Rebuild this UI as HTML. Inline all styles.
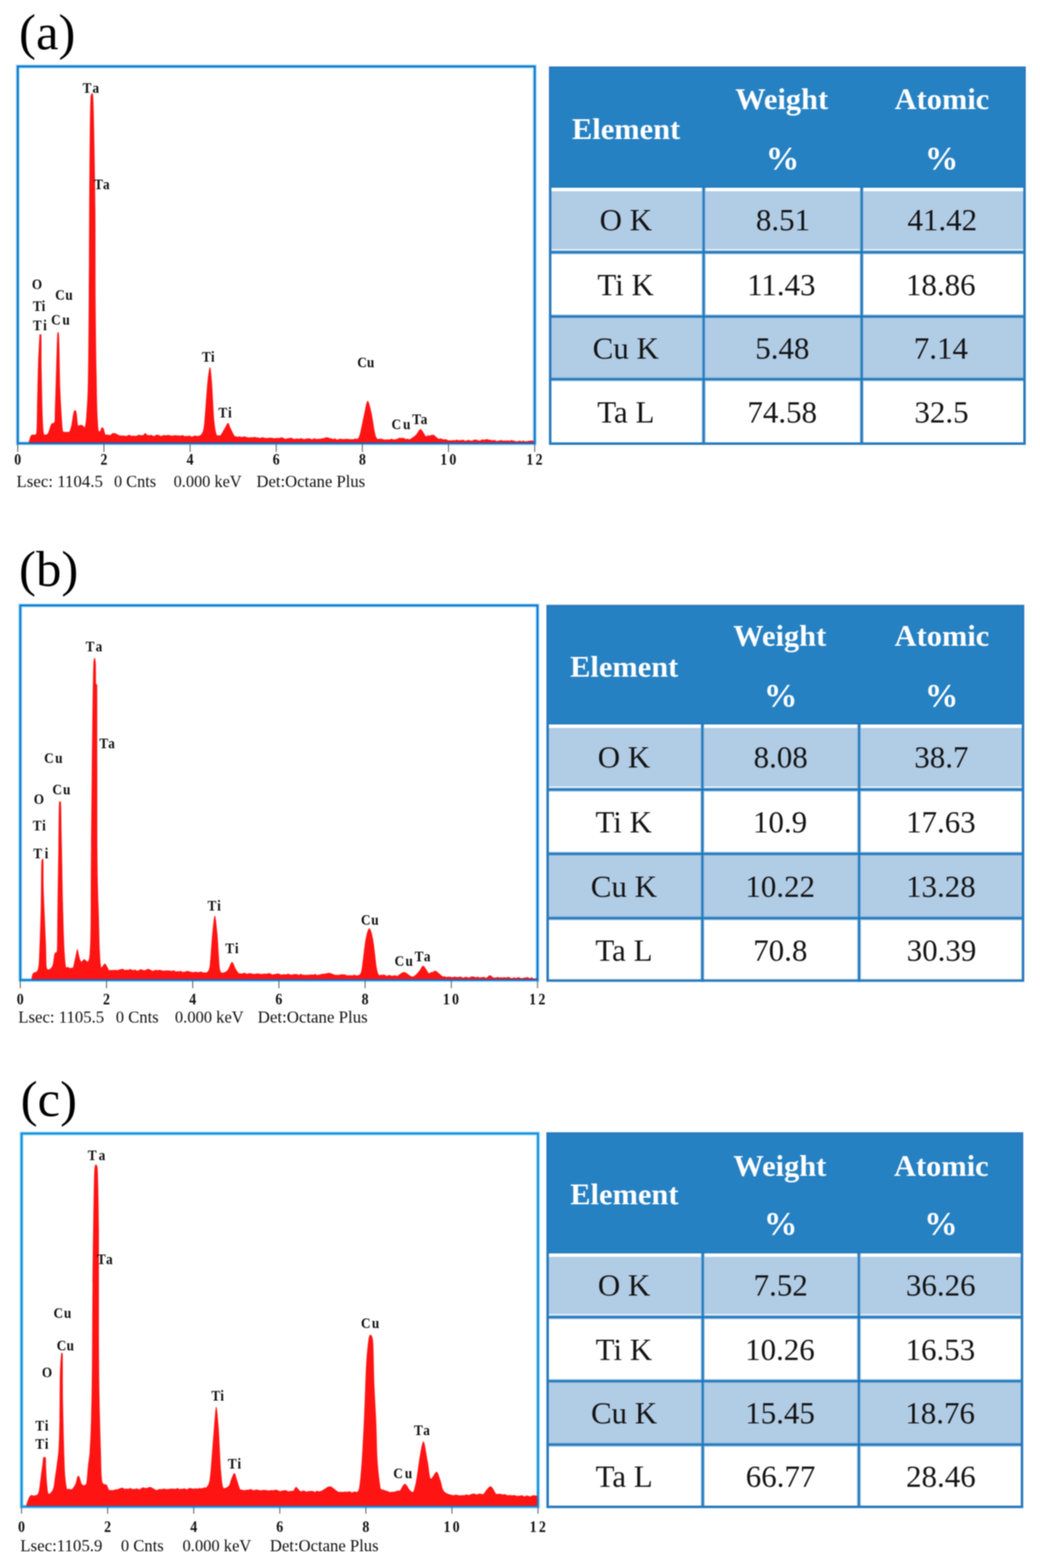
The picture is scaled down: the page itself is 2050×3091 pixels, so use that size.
<!DOCTYPE html>
<html><head><meta charset="utf-8"><title>EDS spectra</title>
<style>html,body{margin:0;padding:0;background:#fff;overflow:hidden;width:2050px;height:3091px;} svg{display:block;} #wrap{filter:blur(1px);}</style></head>
<body><div id="wrap"><svg width="2050" height="3091" viewBox="0 0 2050 3091" font-family="'Liberation Serif', serif">
<rect width="2050" height="3091" fill="#fff"/>
<rect x="35" y="131" width="1019" height="743" fill="none" stroke="#96d6f0" stroke-width="7.5"/>
<path d="M56.9,874 L56.9,869.7 C57.57,867.83 59.5,860.66 60.9,858.5 C62.3,856.75 63.83,857.02 65.3,856.75 C66.77,856.75 68.57,856.9 69.7,856.9 C70.83,855.31 71.55,855.78 72.1,847.2 C72.65,838.62 72.52,826.6 73,805.4 C73.48,784.2 74.2,744.12 75,720 C75.8,695.88 77.2,670.87 77.8,660.7 C78.4,659 77.98,659.28 78.6,659 C79.22,659 80.92,659 81.5,659 C82.08,670.82 81.65,702.57 82.1,729.9 C82.55,757.23 83.45,802.1 84.2,823 C84.95,843.9 85.67,849.65 86.6,855.3 C87.53,856.9 88.45,856.9 89.8,856.9 C91.15,856.62 92.83,856.9 94.7,853.6 C96.57,850.12 98.87,839.77 101,836 C103.13,832.23 106.28,836 107.5,831 C108.3,825.9 107.77,822.78 108.3,805.4 C108.83,788.02 109.9,751.6 110.7,726.7 C111.5,701.8 112.25,667.95 113.1,656 C113.95,655 115.12,655 115.8,655 C116.48,660.62 116.7,671.07 117.2,689.7 C117.7,708.33 118,744.03 118.8,766.8 C119.6,789.57 121.07,812.37 122,826.3 C122.93,840.23 123.33,846.19 124.4,850.4 C125.47,851.57 127.07,851.37 128.4,851.57 C129.73,851.62 131.07,851.62 132.4,851.62 C133.73,851.56 135.05,851.62 136.4,851.2 C137.75,849.13 139.15,845.23 140.5,839.2 C141.85,833.17 143.3,820.1 144.5,815 C145.7,809.9 146.63,808.85 147.7,808.6 C148.77,808.6 149.83,808.6 150.9,813.5 C151.97,818.6 152.75,835.18 154.1,839.2 C155.45,839.2 157.38,837.6 159,837.6 C160.62,837.6 162.47,838.4 163.8,839.2 C165.13,840 165.93,842.4 167,842.4 C168.07,838.92 169.13,834.12 170.2,818.3 C171.27,802.48 172.6,787.42 173.4,747.5 C174.2,707.58 174.5,649.63 175,578.8 C175.5,507.97 175.83,387.18 176.4,322.5 C176.97,257.82 177.5,213.78 178.4,190.7 C179.3,184 180.9,184 181.8,184 C182.7,184.22 183.18,184 183.8,192 C184.42,203.23 184.8,214.35 185.5,251.4 C186.2,288.45 187.5,356.8 188,414.3 C188.5,471.8 188.12,543 188.5,596.4 C188.88,649.8 189.73,698.8 190.3,734.7 C190.87,770.6 191.23,792.78 191.9,811.8 C192.57,830.82 193.5,842.37 194.3,848.8 C195.1,850.4 195.63,850.4 196.7,850.4 C197.77,849.33 199.48,843.47 200.7,842.4 C201.92,842.4 202.78,842.4 204,844 C205.22,846.42 206.6,854.79 208,856.9 C209.4,856.9 210.93,856.66 212.4,856.66 C213.87,856.8 214.98,857.7 216.8,857.7 C218.62,857.19 221.15,854 223.3,853.6 C225.45,853.6 227.58,854.48 229.7,855.3 C231.82,856.12 234.38,857.96 236,858.5 C237.62,858.51 238.27,858.51 239.4,858.51 C240.53,858.5 241.67,858.42 242.8,858.42 C243.93,858.49 245.07,858.81 246.2,858.97 C247.33,859.12 248.47,859.35 249.6,859.35 C250.73,859.12 251.87,857.89 253,857.57 C254.13,857.42 255.27,857.42 256.4,857.42 C257.53,857.75 258.67,859.36 259.8,859.55 C260.93,859.55 262.07,858.55 263.2,858.53 C264.33,858.53 265.47,859.37 266.6,859.41 C267.73,859.41 268.89,859.15 270,858.75 C271.11,858.35 272.17,857.19 273.25,857.02 C274.33,857.02 275.42,857.57 276.5,857.73 C277.58,857.9 278.67,858.01 279.75,858.01 C280.83,857.89 281.92,857.71 283,857 C284.08,856.29 285.08,853.75 286.25,853.75 C287.42,853.75 288.54,856.29 290,857 C291.46,857.71 293.62,857.94 295,858 C296.38,858 297.18,857.35 298.28,857.35 C299.37,857.56 300.46,858.95 301.55,859.26 C302.64,859.26 303.74,859.26 304.83,859.2 C305.92,858.82 307.01,857.35 308.1,856.99 C309.2,856.99 310.29,856.99 311.38,857.02 C312.47,857.26 313.56,858 314.66,858.42 C315.75,858.83 316.84,859.5 317.93,859.5 C319.02,859.45 320.11,858.4 321.21,858.1 C322.3,857.81 323.39,857.73 324.48,857.73 C325.57,857.76 326.67,858.31 327.76,858.31 C328.85,858.25 329.94,857.41 331.03,857.34 C332.13,857.34 333.22,857.7 334.31,857.9 C335.4,858.09 336.49,858.37 337.59,858.51 C338.68,858.65 339.77,858.71 340.86,858.71 C341.95,858.64 343.05,858.18 344.14,858.08 C345.23,858.08 346.32,858.12 347.41,858.13 C348.51,858.14 349.6,858.13 350.69,858.15 C351.78,858.26 352.87,858.78 353.97,858.83 C355.06,858.83 356.15,858.61 357.24,858.44 C358.33,858.26 359.43,857.79 360.52,857.79 C361.61,858.04 362.7,859.71 363.79,859.96 C364.89,859.96 365.98,859.35 367.07,859.28 C368.16,859.28 369.25,859.56 370.34,859.56 C371.44,859.42 372.53,858.42 373.62,858.42 C374.71,858.59 375.8,860.26 376.9,860.57 C377.99,860.57 379.08,860.57 380.17,860.28 C381.26,859.92 382.36,858.62 383.45,858.41 C384.54,858.41 385.63,858.83 386.72,859.01 C387.82,859.19 388.2,859.5 390,859.5 C391.8,858.83 395.42,859.08 397.5,855 C399.58,850.92 400.62,851.67 402.5,835 C404.38,818.33 406.88,773.54 408.75,755 C410.62,736.46 412.29,724.58 413.75,723.75 C415.21,723.75 416.04,732.29 417.5,750 C418.96,767.71 420.83,812 422.5,830 C424.17,848 426.04,853.28 427.5,858 C428.96,858.33 430,858.33 431.25,858.33 C432.5,858.24 432.92,858.33 435,857.5 C437.08,854.86 441.33,846.46 443.75,842.5 C446.17,838.54 447.62,833.75 449.5,833.75 C451.38,834.17 452.83,840.71 455,845 C457.17,849.29 460.71,856.95 462.5,859.5 C464.29,860.28 464.68,860.01 465.77,860.28 C466.86,860.55 467.95,861.1 469.04,861.1 C470.13,861.05 471.22,859.99 472.31,859.99 C473.4,860.02 474.49,861.1 475.58,861.28 C476.67,861.28 477.76,861.25 478.85,861.1 C479.94,860.95 481.03,860.37 482.12,860.37 C483.21,860.41 484.29,861.02 485.38,861.34 C486.47,861.67 487.56,862.15 488.65,862.34 C489.74,862.48 490.83,862.48 491.92,862.48 C493.01,862.39 494.1,861.86 495.19,861.82 C496.28,861.82 497.37,862.27 498.46,862.27 C499.55,862.14 500.64,861.06 501.73,861.06 C502.82,861.1 503.91,862.36 505,862.5 C506.09,862.5 507.17,861.9 508.25,861.9 C509.33,862.05 510.42,863.31 511.5,863.41 C512.58,863.41 513.67,862.73 514.75,862.49 C515.83,862.24 516.92,861.93 518,861.93 C519.08,862.01 520.17,862.72 521.25,862.97 C522.33,863.23 523.42,863.37 524.5,863.44 C525.58,863.44 526.67,863.44 527.75,863.44 C528.83,863.32 529.92,862.81 531,862.73 C532.08,862.73 533.17,862.89 534.25,862.97 C535.33,863.05 536.42,863.05 537.5,863.22 C538.58,863.39 539.67,863.96 540.75,863.99 C541.83,863.99 542.92,863.53 544,863.39 C545.08,863.24 546.17,863.13 547.25,863.13 C548.33,863.13 549.42,863.45 550.5,863.45 C551.58,863.31 552.67,862.49 553.75,862.32 C554.83,862.32 555.92,862.32 557,862.42 C558.08,862.74 559.17,863.78 560.25,864.21 C561.33,864.64 562.42,865.01 563.5,865.01 C564.58,864.98 565.67,864.29 566.75,864.06 C567.83,863.83 568.92,863.77 570,863.61 C571.08,863.45 572.17,863.1 573.25,863.1 C574.33,863.17 575.42,863.66 576.5,864.03 C577.58,864.41 578.67,865.21 579.75,865.35 C580.83,865.35 581.92,865.04 583,864.87 C584.08,864.7 585.17,864.34 586.25,864.34 C587.33,864.4 588.42,865.24 589.5,865.24 C590.58,865.13 591.67,863.81 592.75,863.68 C593.83,863.68 594.92,864.14 596,864.48 C597.08,864.82 598.17,865.64 599.25,865.69 C600.33,865.69 601.42,864.98 602.5,864.79 C603.58,864.59 604.67,864.66 605.75,864.55 C606.83,864.44 607.92,864.12 609,864.12 C610.08,864.18 611.17,864.6 612.25,864.92 C613.33,865.24 614.42,866.05 615.5,866.05 C616.58,865.84 617.67,863.82 618.75,863.65 C619.83,863.65 620.92,864.72 622,865 C623.08,865.28 624.14,865.31 625.21,865.31 C626.29,865.3 627.36,865.07 628.43,864.98 C629.5,864.88 630.57,864.9 631.64,864.72 C632.71,864.54 633.79,864.09 634.86,863.91 C635.93,863.73 637,863.9 638.07,863.66 C639.14,863.42 640.21,862.75 641.29,862.48 C642.36,862.2 643.27,862 644.5,862 C645.73,862.14 647.28,862.97 648.67,863.33 C650.06,863.68 651.44,863.78 652.83,864.14 C654.22,864.5 655.74,865.47 657,865.5 C658.26,865.5 659.26,864.35 660.39,864.35 C661.52,864.51 662.65,866.24 663.79,866.46 C664.92,866.46 666.05,865.97 667.18,865.68 C668.31,865.39 669.44,864.75 670.57,864.72 C671.7,864.72 672.83,865.39 673.96,865.51 C675.1,865.51 676.23,865.51 677.36,865.46 C678.49,865.4 679.62,865.19 680.75,865.13 C681.88,865.1 683.01,865.1 684.14,865.1 C685.27,865.18 686.4,865.48 687.54,865.6 C688.67,865.72 689.8,865.79 690.93,865.82 C692.06,865.82 693.19,865.82 694.32,865.79 C695.45,865.72 696.58,865.64 697.71,865.39 C698.85,865.14 699.98,864.27 701.11,864.27 C702.24,864.29 703.1,865.5 704.5,865.5 C705.9,863.95 707.42,862.58 709.5,855 C711.58,847.42 714.5,830.83 717,820 C719.5,809.17 722,791.25 724.5,790 C727,790 729.5,801.67 732,812.5 C734.5,823.33 737.42,846.17 739.5,855 C741.58,863.83 743.1,863.87 744.5,865.5 C745.9,865.5 746.77,864.94 747.91,864.8 C749.05,864.66 750.18,864.66 751.32,864.66 C752.45,864.81 753.59,865.42 754.73,865.72 C755.86,866.02 757,866.35 758.14,866.44 C759.27,866.44 760.41,866.3 761.55,866.28 C762.68,866.27 763.82,866.27 764.95,866.27 C766.09,866.28 767.23,866.32 768.36,866.32 C769.5,866.09 770.64,864.86 771.77,864.86 C772.91,864.87 774.05,866.21 775.18,866.39 C776.32,866.39 777.45,866.1 778.59,865.95 C779.73,865.8 780.88,865.85 782,865.5 C783.12,865.15 784.22,864.24 785.33,863.83 C786.44,863.43 787.56,863.09 788.67,863.08 C789.78,863.08 790.82,863.75 792,863.75 C793.18,863.75 794.5,863.05 795.75,863.05 C797,863.35 798.25,865.25 799.5,865.54 C800.75,865.54 802,864.79 803.25,864.79 C804.5,864.86 804.29,866 807,866 C809.71,864.79 815.83,860.83 819.5,857.5 C823.17,854.17 825.67,846 829,846 C832.33,846.42 837.12,857.96 839.5,860 C841.88,860 842,858.43 843.25,858.23 C844.5,858.23 845.75,858.82 847,858.82 C848.25,858.68 849.5,857.65 850.75,857.35 C852,857.04 852.21,857 854.5,857 C856.79,858.28 862.3,863.78 864.5,865 C866.7,865 866.64,864.31 867.71,864.31 C868.79,864.31 869.86,864.63 870.93,864.97 C872,865.31 873.07,866.21 874.14,866.36 C875.21,866.36 876.29,865.85 877.36,865.85 C878.43,865.88 879.5,866.17 880.57,866.55 C881.64,866.93 882.71,867.88 883.79,868.12 C884.86,868.12 885.91,868.04 887,868 C888.09,867.96 889.22,867.96 890.33,867.88 C891.44,867.81 892.56,867.54 893.67,867.54 C894.78,867.55 895.89,867.93 897,867.93 C898.11,867.8 899.22,866.8 900.33,866.76 C901.44,866.76 902.56,867.53 903.67,867.71 C904.78,867.79 905.89,867.79 907,867.79 C908.11,867.71 909.22,867.32 910.33,867.19 C911.44,867.05 912.56,866.98 913.67,866.98 C914.78,867.29 915.89,868.87 917,869.04 C918.11,869.04 919.22,868.33 920.33,868.03 C921.44,867.73 922.56,867.24 923.67,867.24 C924.78,867.29 925.89,868.01 927,868.27 C928.11,868.54 929.22,868.82 930.33,868.82 C931.44,868.57 932.56,867.1 933.67,866.75 C934.78,866.75 935.89,866.75 937,866.75 C938.11,866.8 939.22,866.78 940.33,867.08 C941.44,867.38 942.56,868.42 943.67,868.57 C944.78,868.57 945.75,868.38 947,868 C948.25,867.62 949.78,866.47 951.17,866.28 C952.56,866.28 953.94,866.87 955.33,866.87 C956.72,866.73 958.11,865.51 959.5,865.5 C960.89,865.5 962.28,866.5 963.67,866.8 C965.06,867.09 966.44,867.08 967.83,867.28 C969.22,867.48 970.77,867.99 972,868 C973.23,868 974.15,867.33 975.23,867.33 C976.31,867.56 977.38,869.08 978.46,869.35 C979.54,869.35 980.62,869.13 981.69,868.95 C982.77,868.77 983.85,868.5 984.92,868.27 C986,868.04 987.08,867.57 988.15,867.57 C989.23,867.65 990.31,868.64 991.38,868.73 C992.46,868.73 993.54,868.14 994.62,868.13 C995.69,868.13 996.77,868.66 997.85,868.66 C998.92,868.65 1000,868.05 1001.08,868.05 C1002.15,868.1 1003.23,868.92 1004.31,868.92 C1005.38,868.82 1006.46,867.61 1007.54,867.49 C1008.62,867.49 1009.69,867.96 1010.77,868.17 C1011.85,868.38 1012.89,868.44 1014,868.75 C1015.11,869.06 1016.3,869.85 1017.45,870.03 C1018.61,870.03 1019.76,870.03 1020.91,869.86 C1022.06,869.6 1023.21,868.45 1024.36,868.45 C1025.52,868.47 1026.67,869.93 1027.82,869.95 C1028.97,869.95 1030.12,868.6 1031.27,868.6 C1032.42,868.66 1033.58,870.09 1034.73,870.3 C1035.88,870.3 1037.03,870.07 1038.18,869.86 C1039.33,869.66 1040.48,869.27 1041.64,869.08 C1042.79,868.89 1043.94,868.87 1045.09,868.72 C1046.24,868.57 1047.39,868.15 1048.55,868.15 C1049.7,868.28 1051.42,869.28 1052,869.5 L1052,874 Z" fill="#ff1414"/>
<rect x="35" y="131" width="1019" height="743" fill="none" stroke="#0068cc" stroke-width="3.2"/>
<line x1="35" y1="875.5" x2="35" y2="891" stroke="#555" stroke-width="1.8"/>
<text transform="scale(0.86,1)" x="32.7" y="916.5" font-size="32" font-weight="bold" fill="#111" >0</text>
<line x1="204.83" y1="875.5" x2="204.83" y2="891" stroke="#555" stroke-width="1.8"/>
<text transform="scale(0.86,1)" x="230.19" y="916.5" font-size="32" font-weight="bold" fill="#111" >2</text>
<line x1="374.67" y1="875.5" x2="374.67" y2="891" stroke="#555" stroke-width="1.8"/>
<text transform="scale(0.86,1)" x="427.74" y="916.5" font-size="32" font-weight="bold" fill="#111" >4</text>
<line x1="544.5" y1="875.5" x2="544.5" y2="891" stroke="#555" stroke-width="1.8"/>
<text transform="scale(0.86,1)" x="625.06" y="916.5" font-size="32" font-weight="bold" fill="#111" >6</text>
<line x1="714.33" y1="875.5" x2="714.33" y2="891" stroke="#555" stroke-width="1.8"/>
<text transform="scale(0.86,1)" x="822.62" y="916.5" font-size="32" font-weight="bold" fill="#111" >8</text>
<line x1="884.17" y1="875.5" x2="884.17" y2="891" stroke="#555" stroke-width="1.8"/>
<text transform="scale(0.86,1)" x="1008.97 1029.89" y="916.5" font-size="32" font-weight="bold" fill="#111" >10</text>
<line x1="1054" y1="875.5" x2="1054" y2="891" stroke="#555" stroke-width="1.8"/>
<text transform="scale(0.86,1)" x="1206.45 1227.53" y="916.5" font-size="32" font-weight="bold" fill="#111" >12</text>
<text x="32.55" y="960" font-size="33" font-weight="normal" fill="#111" textLength="170.24" lengthAdjust="spacingAndGlyphs">Lsec: 1104.5</text>
<text x="224.74" y="960" font-size="33" font-weight="normal" fill="#111" textLength="82.95" lengthAdjust="spacingAndGlyphs">0 Cnts</text>
<text x="342.24" y="960" font-size="33" font-weight="normal" fill="#111" textLength="134.13" lengthAdjust="spacingAndGlyphs">0.000 keV</text>
<text x="505.55" y="960" font-size="33" font-weight="normal" fill="#111" textLength="214.14" lengthAdjust="spacingAndGlyphs">Det:Octane Plus</text>
<text x="37.6" y="96.6" font-size="100" fill="#000">(a)</text>
<text transform="scale(0.86,1)" x="189.29 211.96" y="182.75" font-size="30.5" font-weight="bold" fill="#111" >Ta</text>
<text transform="scale(0.86,1)" x="215.57 235.91" y="372.6" font-size="30.5" font-weight="bold" fill="#111" >Ta</text>
<text transform="scale(0.86,1)" x="72.96" y="570.5" font-size="30.5" font-weight="bold" fill="#111" >O</text>
<text transform="scale(0.86,1)" x="126.53 149.79" y="590.6" font-size="30.5" font-weight="bold" fill="#111" >Cu</text>
<text transform="scale(0.86,1)" x="75.22 95.23" y="613.1" font-size="30.5" font-weight="bold" fill="#111" >Ti</text>
<text transform="scale(0.86,1)" x="117.23 143.16" y="639.7" font-size="30.5" font-weight="bold" fill="#111" >Cu</text>
<text transform="scale(0.86,1)" x="75.22 98.95" y="650.9" font-size="30.5" font-weight="bold" fill="#111" >Ti</text>
<text transform="scale(0.86,1)" x="462.9 483.54" y="712.75" font-size="30.5" font-weight="bold" fill="#111" >Ti</text>
<text transform="scale(0.86,1)" x="500.69 522.79" y="822.75" font-size="30.5" font-weight="bold" fill="#111" >Ti</text>
<text transform="scale(0.86,1)" x="818.86 841.12" y="724" font-size="30.5" font-weight="bold" fill="#111" >Cu</text>
<text transform="scale(0.86,1)" x="897.35 923.97" y="846.5" font-size="30.5" font-weight="bold" fill="#111" >Cu</text>
<text transform="scale(0.86,1)" x="944.87 964.28" y="836.5" font-size="30.5" font-weight="bold" fill="#111" >Ta</text>
<rect x="1082" y="131" width="940" height="746" fill="#fff"/>
<rect x="1082" y="131" width="940" height="238" fill="#2681c2"/>
<rect x="1085.5" y="377" width="298" height="114.3" fill="#b1cce5"/>
<rect x="1390.5" y="377" width="304.5" height="114.3" fill="#b1cce5"/>
<rect x="1702" y="377" width="316.5" height="114.3" fill="#b1cce5"/>
<rect x="1085.5" y="628.1" width="298" height="116.3" fill="#b1cce5"/>
<rect x="1390.5" y="628.1" width="304.5" height="116.3" fill="#b1cce5"/>
<rect x="1702" y="628.1" width="316.5" height="116.3" fill="#b1cce5"/>
<line x1="1082" y1="497.3" x2="2022" y2="497.3" stroke="#74a8d6" stroke-width="7.5"/>
<line x1="1082" y1="624.1" x2="2022" y2="624.1" stroke="#74a8d6" stroke-width="7.5"/>
<line x1="1082" y1="747.4" x2="2022" y2="747.4" stroke="#74a8d6" stroke-width="7.5"/>
<line x1="1387" y1="369" x2="1387" y2="877" stroke="#74a8d6" stroke-width="7"/>
<line x1="1698.5" y1="369" x2="1698.5" y2="877" stroke="#74a8d6" stroke-width="7"/>
<line x1="1082" y1="497.3" x2="2022" y2="497.3" stroke="#1272b8" stroke-width="3"/>
<line x1="1082" y1="624.1" x2="2022" y2="624.1" stroke="#1272b8" stroke-width="3"/>
<line x1="1082" y1="747.4" x2="2022" y2="747.4" stroke="#1272b8" stroke-width="3"/>
<line x1="1387" y1="369" x2="1387" y2="877" stroke="#1272b8" stroke-width="2.8"/>
<line x1="1698.5" y1="369" x2="1698.5" y2="877" stroke="#1272b8" stroke-width="2.8"/>
<line x1="1082" y1="369" x2="2022" y2="369" stroke="#1a76bc" stroke-width="2"/>
<rect x="1084.5" y="133.5" width="935" height="741" fill="none" stroke="#2a7bbf" stroke-width="5"/>
<text x="1127.48" y="274.2" font-size="60" font-weight="bold" fill="#fff">Element</text>
<text x="1449.13" y="215" font-size="60" font-weight="bold" fill="#fff">Weight</text>
<text x="1763.41" y="215" font-size="60" font-weight="bold" fill="#fff">Atomic</text>
<text x="1509.46" y="334" font-size="66" font-weight="bold" fill="#fff">%</text>
<text x="1822.96" y="334" font-size="66" font-weight="bold" fill="#fff">%</text>
<text x="1181.88" y="454.15" font-size="61" font-weight="normal" fill="#141414">O K</text>
<text x="1490.05" y="454.15" font-size="61" font-weight="normal" fill="#141414">8.51</text>
<text x="1788.71" y="454.15" font-size="61" font-weight="normal" fill="#141414">41.42</text>
<text x="1177.51" y="581.7" font-size="61" font-weight="normal" fill="#141414">Ti K</text>
<text x="1472.64" y="581.7" font-size="61" font-weight="normal" fill="#141414">11.43</text>
<text x="1785.85" y="581.7" font-size="61" font-weight="normal" fill="#141414">18.86</text>
<text x="1168.32" y="706.75" font-size="61" font-weight="normal" fill="#141414">Cu K</text>
<text x="1488.76" y="706.75" font-size="61" font-weight="normal" fill="#141414">5.48</text>
<text x="1801.34" y="706.75" font-size="61" font-weight="normal" fill="#141414">7.14</text>
<text x="1177.36" y="833.2" font-size="61" font-weight="normal" fill="#141414">Ta L</text>
<text x="1473.28" y="833.2" font-size="61" font-weight="normal" fill="#141414">74.58</text>
<text x="1802.61" y="833.2" font-size="61" font-weight="normal" fill="#141414">32.5</text>
<rect x="40" y="1193.5" width="1019.5" height="738.5" fill="none" stroke="#96d6f0" stroke-width="7.5"/>
<path d="M62.1,1932 L62.1,1928.5 C62.58,1926.88 62.92,1921.7 65,1918.8 C67.08,1915.9 72.52,1918.15 74.6,1911.1 C76.68,1904.05 76.53,1897.02 77.5,1876.5 C78.47,1855.98 79.75,1816.87 80.4,1788 C81.05,1759.13 80.97,1719.03 81.4,1703.3 C81.83,1693.6 82.32,1695.22 83,1693.6 C83.68,1693.6 84.97,1693.6 85.5,1693.6 C86.03,1703.87 85.5,1727.93 86.2,1755.2 C87.02,1782.47 89.43,1831.85 90.4,1857.2 C91.37,1882.55 91.1,1898.32 92,1907.3 C92.9,1911.1 93.88,1911.1 95.8,1911.1 C97.72,1910.45 101.57,1908.53 103.5,1903.4 C105.43,1898.27 105.95,1885.1 107.4,1880.3 C108.85,1875.5 111.25,1880.3 112.2,1874.6 C113.1,1862.42 112.62,1841.22 113.1,1807.2 C113.58,1773.18 114.53,1708.37 115.1,1670.5 C115.67,1632.63 115.68,1595.08 116.5,1580 C117.32,1580 119.12,1580 120,1580 C120.88,1593.5 121.02,1623.45 121.8,1661 C122.58,1698.55 123.73,1768.75 124.7,1805.3 C125.67,1841.85 126.63,1863.3 127.6,1880.3 C128.57,1897.3 129.46,1902.96 130.5,1907.3 C131.54,1907.3 132.73,1906.35 133.85,1906.35 C134.97,1906.5 136.08,1907.93 137.2,1908.2 C138.32,1908.2 139.43,1908.14 140.55,1907.99 C141.67,1907.84 142.54,1907.99 143.9,1907.3 C145.26,1903.65 147.25,1892.2 148.7,1886.1 C150.15,1880 151.32,1870.7 152.6,1870.7 C153.88,1870.7 155.12,1881.93 156.4,1886.1 C157.68,1890.27 158.68,1894.9 160.3,1895.7 C161.92,1895.7 164.02,1890.9 166.1,1890.9 C168.18,1890.9 171.03,1895.7 172.8,1895.7 C174.57,1893.93 175.73,1892.48 176.7,1880.3 C177.67,1868.12 178.13,1857.57 178.6,1822.6 C179.07,1787.63 178.95,1735.88 179.5,1670.5 C180.05,1605.12 181.13,1490.68 181.9,1430.3 C182.67,1369.92 183.33,1330.42 184.1,1308.2 C184.87,1297 185.72,1297.03 186.5,1297 C187.28,1297 188.3,1299.53 188.8,1308 C189.3,1316.47 189.03,1340.8 189.5,1347.8 C189.97,1350 191.18,1347.8 191.6,1350 C192,1405.07 191.6,1602 192,1678.2 C192.55,1754.4 194.08,1774.15 194.9,1807.2 C195.72,1840.25 196.08,1859.82 196.9,1876.5 C197.72,1893.18 198.2,1903.45 199.8,1907.3 C201.4,1907.3 204.42,1899.6 206.5,1899.6 C208.58,1899.6 210.87,1905.07 212.3,1907.3 C213.73,1909.53 214.05,1912.21 215.1,1913 C216.15,1913 217.42,1912.15 218.58,1912.05 C219.74,1912.05 220.91,1912.35 222.07,1912.35 C223.23,1912.33 224.39,1911.96 225.55,1911.92 C226.71,1911.92 227.87,1912.09 229.03,1912.13 C230.19,1912.17 231.36,1912.17 232.52,1912.17 C233.68,1912 234.86,1911.44 236,1911.1 C237.14,1910.76 238.22,1910.31 239.33,1910.14 C240.44,1910.06 241.56,1910.06 242.67,1910.06 C243.78,1910.41 244.89,1912.05 246,1912.25 C247.11,1912.25 248.22,1911.3 249.33,1911.3 C250.44,1911.3 251.56,1912.25 252.67,1912.25 C253.78,1912.09 254.89,1910.47 256,1910.37 C257.11,1910.37 258.22,1911.27 259.33,1911.61 C260.44,1911.95 261.56,1912.42 262.67,1912.42 C263.78,1912.36 264.89,1911.23 266,1911.23 C267.11,1911.36 268.22,1912.87 269.33,1913.19 C270.44,1913.19 271.56,1913.19 272.67,1913.17 C273.78,1912.81 274.89,1911.35 276,1911 C277.11,1911 278.22,1911 279.33,1911.08 C280.44,1911.33 281.56,1912.28 282.67,1912.51 C283.78,1912.51 284.4,1912.51 286,1912.5 C287.6,1912.08 290.25,1910 292.25,1910 C294.25,1910 296.5,1911.87 298,1912.5 C299.5,1913.13 300.16,1913.76 301.24,1913.76 C302.32,1913.75 303.4,1912.7 304.48,1912.43 C305.56,1912.16 306.63,1912.12 307.71,1912.12 C308.79,1912.18 309.87,1912.77 310.95,1912.77 C312.03,1912.73 313.11,1911.92 314.19,1911.87 C315.27,1911.87 316.35,1912.27 317.43,1912.49 C318.51,1912.71 319.59,1913.01 320.67,1913.17 C321.75,1913.33 322.83,1913.44 323.9,1913.44 C324.98,1913.39 326.06,1912.95 327.14,1912.88 C328.22,1912.88 329.3,1912.96 330.38,1912.99 C331.46,1913.02 332.54,1912.99 333.62,1913.08 C334.7,1913.22 335.78,1913.75 336.86,1913.82 C337.94,1913.82 339.02,1913.65 340.1,1913.5 C341.17,1913.35 342.25,1912.92 343.33,1912.92 C344.41,1913.2 345.49,1914.89 346.57,1915.16 C347.65,1915.16 348.73,1914.6 349.81,1914.55 C350.89,1914.55 351.97,1914.89 353.05,1914.89 C354.13,1914.77 355.21,1913.83 356.29,1913.83 C357.37,1914.02 358.44,1915.71 359.52,1916.04 C360.6,1916.04 361.68,1915.99 362.76,1915.82 C363.84,1915.64 364.92,1915.28 366,1915 C367.08,1914.72 368.18,1914.15 369.27,1914.11 C370.36,1914.11 371.45,1914.47 372.54,1914.76 C373.63,1915.05 374.72,1915.67 375.81,1915.86 C376.9,1915.93 377.99,1915.86 379.08,1915.93 C380.17,1916.06 381.26,1916.62 382.35,1916.62 C383.44,1916.52 384.53,1915.39 385.62,1915.37 C386.71,1915.37 387.79,1916.39 388.88,1916.53 C389.97,1916.53 391.06,1916.41 392.15,1916.21 C393.24,1916.02 394.33,1915.36 395.42,1915.35 C396.51,1915.35 397.6,1915.91 398.69,1916.19 C399.78,1916.47 400.87,1916.91 401.96,1917.05 C403.05,1917.05 404.14,1917.05 405.23,1917.05 C406.32,1916.92 407.12,1917.05 408.5,1916.25 C409.88,1913.82 411.83,1915.21 413.5,1902.5 C415.17,1889.79 416.83,1856.25 418.5,1840 C420.17,1823.75 421.83,1805 423.5,1805 C425.17,1805 426.83,1822.5 428.5,1840 C430.17,1857.5 431.83,1897.08 433.5,1910 C435.17,1917.5 436,1917.08 438.5,1917.5 C441,1917.5 445.38,1916.04 448.5,1912.5 C451.62,1908.96 454.54,1896.67 457.25,1896.25 C459.96,1896.25 462.46,1906.25 464.75,1910 C467.04,1913.75 469.42,1917.28 471,1918.75 C472.58,1918.81 473.14,1918.76 474.2,1918.81 C475.27,1918.87 476.34,1919.08 477.41,1919.08 C478.48,1918.9 479.54,1917.83 480.61,1917.69 C481.68,1917.69 482.75,1917.94 483.82,1918.29 C484.88,1918.63 485.95,1919.69 487.02,1919.78 C488.09,1919.78 489.16,1919.09 490.22,1918.83 C491.29,1918.58 492.36,1918.26 493.43,1918.26 C494.5,1918.33 495.56,1919.04 496.63,1919.29 C497.7,1919.53 498.77,1919.67 499.84,1919.74 C500.9,1919.74 501.97,1919.74 503.04,1919.71 C504.11,1919.59 505.18,1919.07 506.24,1918.99 C507.31,1918.99 508.38,1919.13 509.45,1919.2 C510.52,1919.28 511.59,1919.27 512.65,1919.44 C513.72,1919.6 514.79,1920.17 515.86,1920.19 C516.93,1920.19 517.99,1919.72 519.06,1919.57 C520.13,1919.42 521.2,1919.29 522.27,1919.29 C523.33,1919.29 524.4,1919.59 525.47,1919.59 C526.54,1919.45 527.61,1918.62 528.67,1918.45 C529.74,1918.45 530.81,1918.45 531.88,1918.53 C532.95,1918.84 534.01,1919.87 535.08,1920.3 C536.15,1920.72 537.22,1921.08 538.29,1921.08 C539.35,1921.05 540.42,1920.35 541.49,1920.11 C542.56,1919.88 543.63,1919.81 544.69,1919.65 C545.76,1919.48 546.83,1919.12 547.9,1919.12 C548.97,1919.18 550.03,1919.66 551.1,1920.03 C552.17,1920.4 553.24,1921.2 554.31,1921.33 C555.37,1921.33 556.44,1921.01 557.51,1920.83 C558.58,1920.66 559.65,1920.28 560.71,1920.28 C561.78,1920.34 562.85,1921.17 563.92,1921.17 C564.99,1921.05 566.05,1919.72 567.12,1919.58 C568.19,1919.58 569.26,1920.04 570.33,1920.37 C571.39,1920.7 572.46,1921.51 573.53,1921.56 C574.6,1921.56 575.67,1920.83 576.73,1920.64 C577.8,1920.44 578.87,1920.5 579.94,1920.38 C581.01,1920.26 582.07,1919.94 583.14,1919.94 C584.21,1919.99 585.28,1920.4 586.35,1920.71 C587.41,1921.03 588.48,1921.83 589.55,1921.83 C590.62,1921.61 591.69,1919.46 592.76,1919.4 C593.82,1919.4 594.89,1921.11 595.96,1921.48 C597.03,1921.62 598.1,1921.56 599.16,1921.62 C600.23,1921.69 601.3,1921.85 602.37,1921.85 C603.44,1921.83 604.5,1921.53 605.57,1921.52 C606.64,1921.52 607.71,1921.75 608.78,1921.75 C609.84,1921.67 610.91,1921.13 611.98,1921.04 C613.05,1921.04 614.12,1921.21 615.18,1921.21 C616.25,1921.18 617.32,1921.11 618.39,1920.9 C619.46,1920.7 620.52,1919.99 621.59,1919.99 C622.66,1920.2 623.73,1921.95 624.8,1922.16 C625.86,1922.16 626.93,1921.45 628,1921.25 C629.07,1921.05 630.14,1921.25 631.21,1920.97 C632.29,1920.68 633.36,1919.72 634.43,1919.54 C635.5,1919.54 636.57,1919.87 637.64,1919.87 C638.71,1919.84 639.79,1919.57 640.86,1919.35 C641.93,1919.13 643,1918.77 644.07,1918.56 C645.14,1918.34 646.21,1918.16 647.29,1918.06 C648.36,1918 649.17,1918 650.5,1918 C651.83,1918.3 653.67,1919.27 655.25,1919.85 C656.83,1920.43 658.67,1921.17 660,1921.5 C661.33,1921.83 662.13,1921.79 663.2,1921.85 C664.27,1921.86 665.33,1921.86 666.4,1921.86 C667.47,1921.8 668.53,1921.73 669.6,1921.49 C670.67,1921.25 671.73,1920.49 672.8,1920.41 C673.87,1920.41 674.93,1920.89 676,1920.96 C677.07,1920.96 678.13,1920.86 679.2,1920.86 C680.27,1921.03 681.33,1921.65 682.4,1921.95 C683.47,1922.26 684.53,1922.6 685.6,1922.71 C686.67,1922.71 687.73,1922.59 688.8,1922.58 C689.87,1922.58 690.93,1922.59 692,1922.61 C693.07,1922.62 694.13,1922.69 695.2,1922.69 C696.27,1922.47 697.33,1921.26 698.4,1921.26 C699.47,1921.29 700.53,1922.63 701.6,1922.82 C702.67,1922.82 703.73,1922.55 704.8,1922.42 C705.87,1922.28 706.63,1922.42 708,1922 C709.37,1919.93 710.92,1921.58 713,1910 C715.08,1898.42 718,1865.83 720.5,1852.5 C723,1839.17 725.5,1830 728,1830 C730.5,1830 733,1839.17 735.5,1852.5 C738,1865.83 740.92,1898.33 743,1910 C745.08,1921.67 746.58,1920.58 748,1922.5 C749.42,1922.5 750.33,1921.71 751.5,1921.54 C752.67,1921.49 753.83,1921.49 755,1921.49 C756.17,1921.51 757.33,1921.49 758.5,1921.61 C759.67,1921.97 760.83,1923.52 762,1923.66 C763.17,1923.66 764.33,1922.71 765.5,1922.47 C766.67,1922.24 767.83,1922.23 769,1922.23 C770.17,1922.44 771.33,1923.56 772.5,1923.7 C773.67,1923.7 774.83,1923.29 776,1923.1 C777.17,1922.9 778.33,1922.51 779.5,1922.51 C780.67,1922.61 780.12,1923.75 783,1923.75 C785.88,1922.71 791.75,1916.25 796.75,1916.25 C801.75,1916.46 808.21,1925 813,1925 C817.79,1924.79 821.96,1918.54 825.5,1915 C829.04,1911.46 830.92,1903.75 834.25,1903.75 C837.58,1904.38 843.05,1916.61 845.5,1918.75 C847.95,1918.75 847.79,1917.02 848.94,1916.62 C850.08,1916.32 851.23,1916.62 852.38,1916.32 C853.52,1915.91 854.67,1914.57 855.81,1914.14 C856.96,1913.75 856.39,1913.75 859.25,1913.75 C862.11,1915.56 870.15,1923.19 873,1925 C875.85,1925 875.22,1924.62 876.33,1924.62 C877.44,1924.78 878.56,1925.82 879.67,1925.97 C880.78,1925.97 881.89,1925.61 883,1925.51 C884.11,1925.41 885.22,1925.37 886.33,1925.37 C887.44,1925.45 888.56,1925.83 889.67,1925.97 C890.78,1926.12 891.91,1926.25 893,1926.25 C894.09,1926.09 895.14,1925.06 896.21,1925.01 C897.29,1925.01 898.36,1925.78 899.43,1925.96 C900.5,1926.04 901.57,1926.04 902.64,1926.04 C903.71,1925.96 904.79,1925.57 905.86,1925.44 C906.93,1925.3 908,1925.23 909.07,1925.23 C910.14,1925.54 911.21,1927.12 912.29,1927.29 C913.36,1927.29 914.43,1926.58 915.5,1926.28 C916.57,1925.98 917.64,1925.49 918.71,1925.49 C919.79,1925.54 920.86,1926.26 921.93,1926.52 C923,1926.79 924.07,1927.07 925.14,1927.07 C926.21,1926.82 927.29,1925.35 928.36,1925 C929.43,1925 930.5,1925 931.57,1925 C932.64,1925.05 933.71,1925.03 934.79,1925.33 C935.86,1925.63 936.93,1926.81 938,1926.82 C939.07,1926.82 940.14,1925.37 941.21,1925.37 C942.29,1925.37 943.36,1926.56 944.43,1926.78 C945.5,1926.78 946.57,1926.78 947.64,1926.71 C948.71,1926.64 949.79,1926.56 950.86,1926.37 C951.93,1926.17 953,1925.52 954.07,1925.52 C955.14,1925.71 956.21,1927.37 957.29,1927.49 C958.36,1927.49 959.13,1927.08 960.5,1926.25 C961.87,1925.42 963.58,1922.5 965.5,1922.5 C967.42,1922.54 970.38,1925.7 972,1926.5 C973.62,1927.3 974.13,1927.29 975.2,1927.31 C976.27,1927.31 977.33,1926.85 978.4,1926.61 C979.47,1926.37 980.53,1925.88 981.6,1925.88 C982.67,1925.95 983.73,1926.93 984.8,1927.02 C985.87,1927.02 986.93,1926.41 988,1926.39 C989.07,1926.39 990.13,1926.9 991.2,1926.9 C992.27,1926.88 993.33,1926.27 994.4,1926.27 C995.47,1926.3 996.53,1927.11 997.6,1927.11 C998.67,1927 999.73,1925.79 1000.8,1925.65 C1001.87,1925.65 1002.93,1925.9 1004,1926.31 C1005.07,1926.71 1006.13,1927.82 1007.2,1928.08 C1008.27,1928.08 1009.33,1928.08 1010.4,1927.88 C1011.47,1927.6 1012.53,1926.43 1013.6,1926.43 C1014.67,1926.43 1015.73,1927.8 1016.8,1927.9 C1017.87,1927.9 1018.89,1927.22 1020,1927 C1021.11,1926.78 1022.3,1926.6 1023.45,1926.6 C1024.61,1926.82 1025.76,1928.11 1026.91,1928.32 C1028.06,1928.32 1029.21,1928.1 1030.36,1927.91 C1031.52,1927.71 1032.67,1927.33 1033.82,1927.15 C1034.97,1926.96 1036.12,1926.96 1037.27,1926.81 C1038.42,1926.66 1039.58,1926.27 1040.73,1926.27 C1041.88,1926.57 1043.03,1928.58 1044.18,1928.62 C1045.33,1928.62 1046.48,1926.53 1047.64,1926.53 C1048.79,1926.53 1049.94,1928.22 1051.09,1928.65 C1052.24,1929.08 1053.39,1929.11 1054.55,1929.11 C1055.7,1929 1057.42,1928.19 1058,1928 L1058,1932 Z" fill="#ff1414"/>
<rect x="40" y="1193.5" width="1019.5" height="738.5" fill="none" stroke="#006ed4" stroke-width="3.2"/>
<line x1="40" y1="1933.5" x2="40" y2="1948" stroke="#555" stroke-width="1.8"/>
<text transform="scale(0.86,1)" x="38.51" y="1980.5" font-size="32" font-weight="bold" fill="#111" >0</text>
<line x1="209.92" y1="1933.5" x2="209.92" y2="1948" stroke="#555" stroke-width="1.8"/>
<text transform="scale(0.86,1)" x="236.1" y="1980.5" font-size="32" font-weight="bold" fill="#111" >2</text>
<line x1="379.83" y1="1933.5" x2="379.83" y2="1948" stroke="#555" stroke-width="1.8"/>
<text transform="scale(0.86,1)" x="433.74" y="1980.5" font-size="32" font-weight="bold" fill="#111" >4</text>
<line x1="549.75" y1="1933.5" x2="549.75" y2="1948" stroke="#555" stroke-width="1.8"/>
<text transform="scale(0.86,1)" x="631.17" y="1980.5" font-size="32" font-weight="bold" fill="#111" >6</text>
<line x1="719.67" y1="1933.5" x2="719.67" y2="1948" stroke="#555" stroke-width="1.8"/>
<text transform="scale(0.86,1)" x="828.82" y="1980.5" font-size="32" font-weight="bold" fill="#111" >8</text>
<line x1="889.58" y1="1933.5" x2="889.58" y2="1948" stroke="#555" stroke-width="1.8"/>
<text transform="scale(0.86,1)" x="1015.27 1036.19" y="1980.5" font-size="32" font-weight="bold" fill="#111" >10</text>
<line x1="1059.5" y1="1933.5" x2="1059.5" y2="1948" stroke="#555" stroke-width="1.8"/>
<text transform="scale(0.86,1)" x="1212.84 1233.92" y="1980.5" font-size="32" font-weight="bold" fill="#111" >12</text>
<text x="36.05" y="2016" font-size="33" font-weight="normal" fill="#111" textLength="169.24" lengthAdjust="spacingAndGlyphs">Lsec: 1105.5</text>
<text x="228.24" y="2016" font-size="33" font-weight="normal" fill="#111" textLength="84.45" lengthAdjust="spacingAndGlyphs">0 Cnts</text>
<text x="344.74" y="2016" font-size="33" font-weight="normal" fill="#111" textLength="135.63" lengthAdjust="spacingAndGlyphs">0.000 keV</text>
<text x="508.05" y="2016" font-size="33" font-weight="normal" fill="#111" textLength="216.64" lengthAdjust="spacingAndGlyphs">Det:Octane Plus</text>
<text x="37.6" y="1154.6" font-size="100" fill="#000">(b)</text>
<text transform="scale(0.86,1)" x="196.15 219.17" y="1284.1" font-size="30.5" font-weight="bold" fill="#111" >Ta</text>
<text transform="scale(0.86,1)" x="227.55 248" y="1475.5" font-size="30.5" font-weight="bold" fill="#111" >Ta</text>
<text transform="scale(0.86,1)" x="101.07 126.53" y="1504" font-size="30.5" font-weight="bold" fill="#111" >Cu</text>
<text transform="scale(0.86,1)" x="120.02 144.44" y="1565.6" font-size="30.5" font-weight="bold" fill="#111" >Cu</text>
<text transform="scale(0.86,1)" x="77.21" y="1584.9" font-size="30.5" font-weight="bold" fill="#111" >O</text>
<text transform="scale(0.86,1)" x="75.1 96.62" y="1636.8" font-size="30.5" font-weight="bold" fill="#111" >Ti</text>
<text transform="scale(0.86,1)" x="76.27 102.21" y="1691.7" font-size="30.5" font-weight="bold" fill="#111" >Ti</text>
<text transform="scale(0.86,1)" x="475.69 497.79" y="1795.25" font-size="30.5" font-weight="bold" fill="#111" >Ti</text>
<text transform="scale(0.86,1)" x="516.38 538.48" y="1879" font-size="30.5" font-weight="bold" fill="#111" >Ti</text>
<text transform="scale(0.86,1)" x="827.29 851.01" y="1822.75" font-size="30.5" font-weight="bold" fill="#111" >Cu</text>
<text transform="scale(0.86,1)" x="904.32 929.5" y="1904" font-size="30.5" font-weight="bold" fill="#111" >Cu</text>
<text transform="scale(0.86,1)" x="950.4 971.55" y="1895.25" font-size="30.5" font-weight="bold" fill="#111" >Ta</text>
<rect x="1077" y="1192.5" width="942" height="743" fill="#fff"/>
<rect x="1077" y="1192.5" width="942" height="234.5" fill="#2681c2"/>
<rect x="1080.5" y="1435" width="300.5" height="115.5" fill="#b1cce5"/>
<rect x="1388" y="1435" width="301.9" height="115.5" fill="#b1cce5"/>
<rect x="1696.9" y="1435" width="318.6" height="115.5" fill="#b1cce5"/>
<rect x="1080.5" y="1687.2" width="300.5" height="119.8" fill="#b1cce5"/>
<rect x="1388" y="1687.2" width="301.9" height="119.8" fill="#b1cce5"/>
<rect x="1696.9" y="1687.2" width="318.6" height="119.8" fill="#b1cce5"/>
<line x1="1077" y1="1556.5" x2="2019" y2="1556.5" stroke="#74a8d6" stroke-width="7.5"/>
<line x1="1077" y1="1683.2" x2="2019" y2="1683.2" stroke="#74a8d6" stroke-width="7.5"/>
<line x1="1077" y1="1810" x2="2019" y2="1810" stroke="#74a8d6" stroke-width="7.5"/>
<line x1="1384.5" y1="1427" x2="1384.5" y2="1935.5" stroke="#74a8d6" stroke-width="7"/>
<line x1="1693.4" y1="1427" x2="1693.4" y2="1935.5" stroke="#74a8d6" stroke-width="7"/>
<line x1="1077" y1="1556.5" x2="2019" y2="1556.5" stroke="#1272b8" stroke-width="3"/>
<line x1="1077" y1="1683.2" x2="2019" y2="1683.2" stroke="#1272b8" stroke-width="3"/>
<line x1="1077" y1="1810" x2="2019" y2="1810" stroke="#1272b8" stroke-width="3"/>
<line x1="1384.5" y1="1427" x2="1384.5" y2="1935.5" stroke="#1272b8" stroke-width="2.8"/>
<line x1="1693.4" y1="1427" x2="1693.4" y2="1935.5" stroke="#1272b8" stroke-width="2.8"/>
<line x1="1077" y1="1427" x2="2019" y2="1427" stroke="#1a76bc" stroke-width="2"/>
<rect x="1079.5" y="1195" width="937" height="738" fill="none" stroke="#2a7bbf" stroke-width="5"/>
<text x="1123.73" y="1334" font-size="60" font-weight="bold" fill="#fff">Element</text>
<text x="1445.33" y="1273" font-size="60" font-weight="bold" fill="#fff">Weight</text>
<text x="1763.36" y="1273" font-size="60" font-weight="bold" fill="#fff">Atomic</text>
<text x="1505.66" y="1392.5" font-size="66" font-weight="bold" fill="#fff">%</text>
<text x="1822.91" y="1392.5" font-size="66" font-weight="bold" fill="#fff">%</text>
<text x="1178.13" y="1512.75" font-size="61" font-weight="normal" fill="#141414">O K</text>
<text x="1485.58" y="1512.75" font-size="61" font-weight="normal" fill="#141414">8.08</text>
<text x="1802.24" y="1512.75" font-size="61" font-weight="normal" fill="#141414">38.7</text>
<text x="1173.76" y="1640.85" font-size="61" font-weight="normal" fill="#141414">Ti K</text>
<text x="1484.15" y="1640.85" font-size="61" font-weight="normal" fill="#141414">10.9</text>
<text x="1786.09" y="1640.85" font-size="61" font-weight="normal" fill="#141414">17.63</text>
<text x="1164.57" y="1767.6" font-size="61" font-weight="normal" fill="#141414">Cu K</text>
<text x="1469.33" y="1767.6" font-size="61" font-weight="normal" fill="#141414">10.22</text>
<text x="1786.06" y="1767.6" font-size="61" font-weight="normal" fill="#141414">13.28</text>
<text x="1173.61" y="1893.75" font-size="61" font-weight="normal" fill="#141414">Ta L</text>
<text x="1484.73" y="1893.75" font-size="61" font-weight="normal" fill="#141414">70.8</text>
<text x="1787.37" y="1893.75" font-size="61" font-weight="normal" fill="#141414">30.39</text>
<rect x="42.5" y="2234.5" width="1018" height="735.5" fill="none" stroke="#96d6f0" stroke-width="7.5"/>
<path d="M51.4,2970 L51.4,2968.2 C52.13,2966 54.48,2958.23 55.8,2955 C57.12,2951.77 58.13,2950.1 59.3,2948.8 C60.47,2947.5 61.65,2947.27 62.83,2947.2 C64,2947.2 65.17,2948.35 66.35,2948.4 C67.52,2948.4 68.7,2947.9 69.88,2947.54 C71.05,2947.17 72.23,2947.54 73.4,2946.2 C74.57,2944.51 75.58,2944.42 76.9,2937.4 C78.22,2930.38 80.13,2912.87 81.3,2904.1 C82.47,2895.33 83.18,2890.07 83.9,2884.8 C84.62,2879.53 84.55,2874.55 85.6,2872.5 C86.65,2872.5 89.32,2872.5 90.2,2872.5 C90.9,2876 90.48,2884.73 90.9,2893.5 C91.32,2902.27 91.97,2916.6 92.7,2925.1 C93.43,2933.6 94.43,2941.27 95.3,2944.5 C96.17,2944.5 96.28,2944.5 97.9,2944.5 C99.52,2942.73 103.23,2939.47 105,2933.9 C106.77,2928.33 107.33,2919 108.5,2911.1 C109.67,2903.2 110.83,2895.87 112,2886.5 C113.17,2877.13 114.63,2869.53 115.5,2854.9 C116.37,2840.27 116.77,2822.98 117.2,2798.7 C117.63,2774.42 117.5,2731.13 118.1,2709.2 C118.7,2687.27 119.9,2674.12 120.8,2667.1 C121.7,2667.1 122.92,2667.1 123.5,2667.1 C124.08,2683.77 123.73,2732.87 124.3,2767.1 C124.87,2801.33 126.17,2848.5 126.9,2872.5 C127.63,2896.5 127.82,2900.57 128.7,2911.1 C129.58,2921.63 131.08,2931.71 132.2,2935.7 C133.32,2935.7 134.33,2935.07 135.4,2935.06 C136.47,2935.06 137.53,2935.58 138.6,2935.69 C139.67,2935.7 140.1,2935.7 141.8,2935.7 C143.5,2933.94 147.03,2929.2 148.8,2925.1 C150.57,2921 151.22,2913.72 152.4,2911.1 C153.58,2909.4 154.45,2909.4 155.9,2909.4 C157.35,2911.73 159.65,2922.03 161.1,2925.1 C162.55,2927.8 163.13,2927.8 164.6,2927.8 C166.07,2927.8 168.43,2927.8 169.9,2925.1 C171.37,2918.8 172.23,2901.12 173.4,2890 C174.57,2878.88 175.87,2874.48 176.9,2858.4 C177.93,2842.32 178.87,2821 179.6,2793.5 C180.33,2766 180.83,2736.97 181.3,2693.4 C181.77,2649.83 181.73,2593.28 182.4,2532.1 C183.07,2470.92 184.35,2365.75 185.3,2326.3 C186.25,2295.4 186.92,2299.47 188.1,2295.4 C189.28,2295.4 191.27,2295.4 192.4,2301.9 C193.53,2323.37 194.48,2370.95 194.9,2424.2 C194.9,2477.45 194.9,2566 194.9,2621.4 C195.12,2676.8 195.53,2716.5 196.2,2756.6 C196.87,2796.7 198.17,2835.95 198.9,2862 C199.63,2888.05 199.73,2902.38 200.6,2912.9 C201.47,2923.42 202.48,2922.77 204.1,2925.1 C205.72,2926.9 208.38,2925.1 210.3,2926.9 C212.22,2928.95 213.55,2935.65 215.6,2937.4 C217.65,2937.4 220.88,2937.4 222.6,2937.4 C224.32,2937.23 224.82,2936.62 225.93,2936.39 C227.03,2936.17 228.14,2936.19 229.25,2936.04 C230.36,2935.9 231.47,2935.88 232.57,2935.53 C233.68,2935.17 234.79,2934.33 235.9,2933.9 C237.01,2933.47 238.13,2933.13 239.24,2932.97 C240.36,2932.92 241.47,2932.92 242.59,2932.92 C243.7,2933.28 244.82,2934.92 245.93,2935.14 C247.05,2935.14 248.16,2934.21 249.28,2934.21 C250.39,2934.22 251.51,2935.19 252.62,2935.19 C253.74,2935.05 254.85,2933.44 255.97,2933.34 C257.08,2933.34 258.2,2934.26 259.31,2934.61 C260.43,2934.97 261.54,2935.39 262.66,2935.45 C263.77,2935.45 264.87,2935.24 266,2935 C267.13,2934.76 268.29,2934.01 269.43,2934.01 C270.57,2934.11 271.71,2935.39 272.86,2935.59 C274,2935.59 275.14,2935.59 276.29,2935.19 C277.43,2934.69 278.57,2933.11 279.71,2932.64 C280.86,2932.34 282,2932.34 283.14,2932.34 C284.29,2932.46 285.43,2933.28 286.57,2933.39 C287.71,2933.39 288.43,2933.36 290,2933 C291.57,2932.64 293.33,2931.25 296,2931.25 C298.67,2931.79 303.8,2935.24 306,2936.25 C308.2,2937.26 308.13,2937.29 309.2,2937.29 C310.27,2937.21 311.33,2936.09 312.4,2935.74 C313.47,2935.39 314.53,2935.23 315.6,2935.21 C316.67,2935.21 317.73,2935.65 318.8,2935.65 C319.87,2935.53 320.93,2934.65 322,2934.53 C323.07,2934.53 324.13,2934.78 325.2,2934.93 C326.27,2935.07 327.33,2935.3 328.4,2935.39 C329.47,2935.44 330.53,2935.44 331.6,2935.44 C332.67,2935.32 333.73,2934.8 334.8,2934.66 C335.87,2934.55 336.93,2934.59 338,2934.55 C339.07,2934.51 340.13,2934.42 341.2,2934.42 C342.27,2934.48 343.33,2934.94 344.4,2934.94 C345.47,2934.94 346.53,2934.63 347.6,2934.4 C348.67,2934.18 349.73,2933.61 350.8,2933.61 C351.87,2933.81 352.93,2935.43 354,2935.63 C355.07,2935.63 356.13,2934.91 357.2,2934.8 C358.27,2934.8 359.33,2934.92 360.4,2934.92 C361.47,2934.73 362.53,2933.63 363.6,2933.63 C364.67,2933.75 365.73,2935.37 366.8,2935.63 C367.87,2935.63 368.93,2935.6 370,2935.19 C371.07,2934.77 372.13,2933.43 373.2,2933.16 C374.27,2933.16 375.33,2933.39 376.4,2933.62 C377.47,2933.84 378.53,2934.4 379.6,2934.53 C380.67,2934.53 381.73,2934.53 382.8,2934.4 C383.87,2934.27 384.91,2933.75 386,2933.75 C387.09,2933.8 388.22,2934.68 389.33,2934.68 C390.44,2934.57 391.56,2933.25 392.67,2933.13 C393.78,2933.13 394.89,2933.94 396,2933.98 C397.11,2933.98 398.22,2933.66 399.33,2933.36 C400.44,2933.06 401.56,2932.34 402.67,2932.2 C403.78,2932.2 404.19,2932.5 406,2932.5 C407.81,2929.63 411.21,2930.42 413.5,2915 C415.79,2899.58 417.67,2863.75 419.75,2840 C421.83,2816.25 424.12,2776.67 426,2772.5 C427.88,2772.5 429.33,2793.33 431,2815 C432.67,2836.67 434.33,2882.71 436,2902.5 C437.67,2922.29 438.5,2929.38 441,2933.75 C443.5,2933.75 448.5,2931.88 451,2928.75 C453.5,2925.62 454.12,2919.17 456,2915 C457.88,2910.83 460.38,2903.75 462.25,2903.75 C464.12,2904.17 465.38,2912.08 467.25,2917.5 C469.12,2922.92 471.91,2933.07 473.5,2936.25 C475.09,2936.56 475.69,2936.36 476.78,2936.56 C477.88,2936.75 478.97,2937.26 480.06,2937.4 C481.16,2937.4 482.25,2937.4 483.34,2937.38 C484.44,2937.25 485.53,2936.66 486.62,2936.58 C487.72,2936.58 488.81,2936.87 489.91,2936.87 C491,2936.69 492.09,2935.63 493.19,2935.51 C494.28,2935.51 495.38,2935.77 496.47,2936.13 C497.56,2936.48 498.66,2937.55 499.75,2937.65 C500.84,2937.65 501.94,2936.97 503.03,2936.73 C504.12,2936.49 505.22,2936.18 506.31,2936.18 C507.41,2936.27 508.5,2936.98 509.59,2937.24 C510.69,2937.49 511.78,2937.63 512.88,2937.72 C513.97,2937.72 515.06,2937.72 516.16,2937.72 C517.25,2937.6 518.34,2937.09 519.44,2937.02 C520.53,2937.02 521.62,2937.18 522.72,2937.26 C523.81,2937.35 524.91,2937.35 526,2937.52 C527.09,2937.7 528.19,2938.27 529.28,2938.3 C530.38,2938.3 531.47,2937.85 532.56,2937.71 C533.66,2937.57 534.75,2937.46 535.84,2937.46 C536.94,2937.47 538.03,2937.79 539.12,2937.79 C540.22,2937.65 541.31,2936.83 542.41,2936.67 C543.5,2936.67 544.59,2936.67 545.69,2936.78 C546.78,2937.1 547.88,2938.14 548.97,2938.58 C550.06,2939.01 551.16,2939.38 552.25,2939.38 C553.34,2939.36 554.44,2938.67 555.53,2938.45 C556.62,2938.22 557.72,2938.16 558.81,2938 C559.91,2937.85 561,2937.5 562.09,2937.5 C563.19,2937.58 564.28,2938.07 565.38,2938.44 C566.47,2938.82 567.56,2939.63 568.66,2939.77 C569.75,2939.77 570.84,2939.46 571.94,2939.3 C573.03,2939.13 574.12,2938.87 575.22,2938.77 C576.31,2938.75 577.12,2938.77 578.5,2938.75 C579.88,2937.5 581.42,2931.25 583.5,2931.25 C585.58,2931.25 589.19,2937.32 591,2938.75 C592.81,2939.8 593.24,2939.8 594.36,2939.8 C595.48,2939.72 596.61,2938.39 597.73,2938.28 C598.85,2938.28 599.97,2938.78 601.09,2939.13 C602.21,2939.48 603.33,2940.32 604.45,2940.38 C605.58,2940.38 606.7,2939.7 607.82,2939.52 C608.94,2939.34 610.06,2939.42 611.18,2939.33 C612.3,2939.23 613.42,2938.95 614.55,2938.95 C615.67,2939.02 616.79,2939.45 617.91,2939.78 C619.03,2940.12 620.15,2940.96 621.27,2940.96 C622.39,2940.76 623.52,2938.76 624.64,2938.6 C625.76,2938.6 626.88,2939.85 628,2940 C629.12,2940 630.22,2939.77 631.33,2939.49 C632.44,2939.21 633.56,2938.87 634.67,2938.33 C635.78,2937.79 635.36,2937.64 638,2936.25 C640.64,2934.86 645.92,2930 650.5,2930 C655.08,2930.62 662.43,2938.15 665.5,2940 C668.57,2941.12 667.77,2940.98 668.91,2941.12 C670.05,2941.12 671.18,2940.85 672.32,2940.85 C673.45,2940.86 674.59,2941.14 675.73,2941.14 C676.86,2941.09 678,2940.57 679.14,2940.5 C680.27,2940.5 681.41,2940.73 682.55,2940.73 C683.68,2940.73 684.82,2940.67 685.95,2940.49 C687.09,2940.31 688.23,2939.64 689.36,2939.64 C690.5,2939.87 691.64,2941.61 692.77,2941.87 C693.91,2941.87 695.05,2941.46 696.18,2941.2 C697.32,2940.95 698.45,2940.36 699.59,2940.36 C700.73,2940.36 701.6,2941.25 703,2941.25 C704.4,2939.94 706.33,2941.25 708,2932.5 C709.67,2922.29 711.33,2904.58 713,2880 C714.67,2855.42 716.54,2816.67 718,2785 C719.46,2753.33 720.29,2714.58 721.75,2690 C723.21,2665.42 725.29,2647.29 726.75,2637.5 C728.21,2631.25 729.04,2631.25 730.5,2631.25 C731.96,2632.5 734.25,2631.25 735.5,2645 C736.75,2661.46 736.96,2703.33 738,2730 C739.04,2756.67 740.71,2780 741.75,2805 C742.79,2830 742.79,2858.33 744.25,2880 C745.71,2901.67 748.88,2925.62 750.5,2935 C752.12,2936.26 752.83,2935.85 754,2936.26 C755.17,2936.67 756.33,2937.11 757.5,2937.46 C758.67,2937.81 759.83,2938.02 761,2938.38 C762.17,2938.73 763.33,2939.12 764.5,2939.6 C765.67,2940.08 766.86,2941.03 768,2941.25 C769.14,2941.25 770.22,2941.02 771.33,2940.93 C772.44,2940.85 773.56,2940.84 774.67,2940.74 C775.78,2940.63 776.89,2940.5 778,2940.29 C779.11,2940.08 780.22,2939.87 781.33,2939.47 C782.44,2939.08 783.56,2938.06 784.67,2937.94 C785.78,2937.94 785.78,2938.75 788,2938.75 C790.22,2936.59 794.67,2925.21 798,2925 C801.33,2925 805.29,2934.79 808,2937.5 C810.71,2940.21 812.17,2941.25 814.25,2941.25 C816.33,2937.92 818.21,2929.79 820.5,2917.5 C822.79,2905.21 825.58,2880.21 828,2867.5 C830.42,2854.79 832.5,2841.25 835,2841.25 C837.5,2843.33 840.62,2867.71 843,2880 C845.38,2892.29 846.33,2911.46 849.25,2915 C852.17,2915 857.38,2901.25 860.5,2901.25 C863.62,2901.67 865.5,2911.04 868,2917.5 C870.5,2923.96 871.33,2935 875.5,2940 C879.67,2945 889.53,2946.39 893,2947.5 C896.33,2947.5 895.22,2946.84 896.33,2946.66 C897.44,2946.47 898.56,2946.38 899.67,2946.38 C900.78,2946.49 901.89,2947.05 903,2947.3 C904.11,2947.55 905.22,2947.84 906.33,2947.88 C907.44,2947.88 908.56,2947.66 909.67,2947.58 C910.78,2947.51 911.89,2947.48 913,2947.44 C914.11,2947.4 915.22,2947.44 916.33,2947.35 C917.44,2947.07 918.56,2945.79 919.67,2945.75 C920.78,2945.75 921.89,2947 923,2947.14 C924.11,2947.14 925.22,2946.94 926.33,2946.56 C927.44,2946.19 928.56,2945.22 929.67,2944.89 C930.78,2944.58 931.89,2944.65 933,2944.58 C934.11,2944.5 935.22,2944.43 936.33,2944.43 C937.44,2944.71 938.56,2946.16 939.67,2946.22 C940.78,2946.22 941.89,2945.09 943,2944.77 C944.11,2944.44 945.22,2944.26 946.33,2944.26 C947.44,2944.38 948.56,2945.34 949.67,2945.46 C950.78,2945.46 950.15,2945.46 953,2945 C955.85,2942.42 962.58,2930 966.75,2930 C970.92,2930 975.59,2942.52 978,2945 C980.41,2945 980.15,2944.97 981.23,2944.88 C982.31,2944.79 983.38,2944.46 984.46,2944.46 C985.54,2944.47 986.62,2944.69 987.69,2944.98 C988.77,2945.27 989.85,2946.13 990.92,2946.23 C992,2946.23 993.08,2945.59 994.15,2945.58 C995.23,2945.58 996.31,2945.81 997.38,2946.14 C998.46,2946.47 999.54,2947.39 1000.62,2947.57 C1001.69,2947.57 1002.77,2947.26 1003.85,2947.19 C1004.92,2947.13 1006,2947.13 1007.08,2947.13 C1008.15,2947.24 1009.23,2947.82 1010.31,2947.82 C1011.38,2947.78 1012.46,2946.93 1013.54,2946.93 C1014.62,2946.99 1015.69,2947.86 1016.77,2948.17 C1017.85,2948.47 1018.92,2948.68 1020,2948.75 C1021.08,2948.75 1022.17,2948.69 1023.25,2948.57 C1024.33,2948.44 1025.42,2948.11 1026.5,2947.98 C1027.58,2947.85 1028.67,2947.8 1029.75,2947.8 C1030.83,2948.11 1031.92,2949.69 1033,2949.87 C1034.08,2949.87 1035.17,2949.17 1036.25,2948.88 C1037.33,2948.59 1038.42,2948.12 1039.5,2948.12 C1040.58,2948.17 1041.67,2948.9 1042.75,2949.17 C1043.83,2949.44 1044.92,2949.74 1046,2949.74 C1047.08,2949.49 1048.17,2948.03 1049.25,2947.69 C1050.33,2947.69 1051.42,2947.69 1052.5,2947.7 C1053.58,2947.77 1054.67,2947.84 1055.75,2948.06 C1056.83,2948.28 1058.46,2948.84 1059,2949 L1059,2970 Z" fill="#ff1414"/>
<rect x="42.5" y="2234.5" width="1018" height="735.5" fill="none" stroke="#0088dc" stroke-width="3.2"/>
<line x1="42.5" y1="2971.5" x2="42.5" y2="2984" stroke="#555" stroke-width="1.8"/>
<text transform="scale(0.86,1)" x="41.42" y="3020.5" font-size="32" font-weight="bold" fill="#111" >0</text>
<line x1="212.17" y1="2971.5" x2="212.17" y2="2984" stroke="#555" stroke-width="1.8"/>
<text transform="scale(0.86,1)" x="238.72" y="3020.5" font-size="32" font-weight="bold" fill="#111" >2</text>
<line x1="381.83" y1="2971.5" x2="381.83" y2="2984" stroke="#555" stroke-width="1.8"/>
<text transform="scale(0.86,1)" x="436.07" y="3020.5" font-size="32" font-weight="bold" fill="#111" >4</text>
<line x1="551.5" y1="2971.5" x2="551.5" y2="2984" stroke="#555" stroke-width="1.8"/>
<text transform="scale(0.86,1)" x="633.2" y="3020.5" font-size="32" font-weight="bold" fill="#111" >6</text>
<line x1="721.17" y1="2971.5" x2="721.17" y2="2984" stroke="#555" stroke-width="1.8"/>
<text transform="scale(0.86,1)" x="830.57" y="3020.5" font-size="32" font-weight="bold" fill="#111" >8</text>
<line x1="890.83" y1="2971.5" x2="890.83" y2="2984" stroke="#555" stroke-width="1.8"/>
<text transform="scale(0.86,1)" x="1016.72 1037.64" y="3020.5" font-size="32" font-weight="bold" fill="#111" >10</text>
<line x1="1060.5" y1="2971.5" x2="1060.5" y2="2984" stroke="#555" stroke-width="1.8"/>
<text transform="scale(0.86,1)" x="1214.01 1235.08" y="3020.5" font-size="32" font-weight="bold" fill="#111" >12</text>
<text x="40.05" y="3057.5" font-size="33" font-weight="normal" fill="#111" textLength="161.8" lengthAdjust="spacingAndGlyphs">Lsec:1105.9</text>
<text x="238.24" y="3057.5" font-size="33" font-weight="normal" fill="#111" textLength="84.45" lengthAdjust="spacingAndGlyphs">0 Cnts</text>
<text x="359.74" y="3057.5" font-size="33" font-weight="normal" fill="#111" textLength="135.63" lengthAdjust="spacingAndGlyphs">0.000 keV</text>
<text x="532.05" y="3057.5" font-size="33" font-weight="normal" fill="#111" textLength="214.14" lengthAdjust="spacingAndGlyphs">Det:Octane Plus</text>
<text x="40.8" y="2200" font-size="100" fill="#000">(c)</text>
<text transform="scale(0.86,1)" x="201.04 226.26" y="2287.2" font-size="30.5" font-weight="bold" fill="#111" >Ta</text>
<text transform="scale(0.86,1)" x="221.97 243" y="2492.2" font-size="30.5" font-weight="bold" fill="#111" >Ta</text>
<text transform="scale(0.86,1)" x="122.7 146.53" y="2598.5" font-size="30.5" font-weight="bold" fill="#111" >Cu</text>
<text transform="scale(0.86,1)" x="129.91 152.69" y="2661.7" font-size="30.5" font-weight="bold" fill="#111" >Cu</text>
<text transform="scale(0.86,1)" x="95.87" y="2715.2" font-size="30.5" font-weight="bold" fill="#111" >O</text>
<text transform="scale(0.86,1)" x="80.92 102.67" y="2819.7" font-size="30.5" font-weight="bold" fill="#111" >Ti</text>
<text transform="scale(0.86,1)" x="80.92 102.67" y="2855.7" font-size="30.5" font-weight="bold" fill="#111" >Ti</text>
<text transform="scale(0.86,1)" x="484.41 505.05" y="2761.5" font-size="30.5" font-weight="bold" fill="#111" >Ti</text>
<text transform="scale(0.86,1)" x="522.2 544.3" y="2895.25" font-size="30.5" font-weight="bold" fill="#111" >Ti</text>
<text transform="scale(0.86,1)" x="827.29 852.46" y="2617.75" font-size="30.5" font-weight="bold" fill="#111" >Cu</text>
<text transform="scale(0.86,1)" x="948.94 970.1" y="2829" font-size="30.5" font-weight="bold" fill="#111" >Ta</text>
<text transform="scale(0.86,1)" x="901.42 928.04" y="2914" font-size="30.5" font-weight="bold" fill="#111" >Cu</text>
<rect x="1077" y="2232" width="940" height="741" fill="#fff"/>
<rect x="1077" y="2232" width="940" height="237.7" fill="#2681c2"/>
<rect x="1080.5" y="2477.7" width="301.2" height="112.8" fill="#b1cce5"/>
<rect x="1388.7" y="2477.7" width="300.8" height="112.8" fill="#b1cce5"/>
<rect x="1696.5" y="2477.7" width="317" height="112.8" fill="#b1cce5"/>
<rect x="1080.5" y="2726.8" width="301.2" height="117.9" fill="#b1cce5"/>
<rect x="1388.7" y="2726.8" width="300.8" height="117.9" fill="#b1cce5"/>
<rect x="1696.5" y="2726.8" width="317" height="117.9" fill="#b1cce5"/>
<line x1="1077" y1="2596.5" x2="2017" y2="2596.5" stroke="#74a8d6" stroke-width="7.5"/>
<line x1="1077" y1="2722.8" x2="2017" y2="2722.8" stroke="#74a8d6" stroke-width="7.5"/>
<line x1="1077" y1="2847.7" x2="2017" y2="2847.7" stroke="#74a8d6" stroke-width="7.5"/>
<line x1="1385.2" y1="2469.7" x2="1385.2" y2="2973" stroke="#74a8d6" stroke-width="7"/>
<line x1="1693" y1="2469.7" x2="1693" y2="2973" stroke="#74a8d6" stroke-width="7"/>
<line x1="1077" y1="2596.5" x2="2017" y2="2596.5" stroke="#1272b8" stroke-width="3"/>
<line x1="1077" y1="2722.8" x2="2017" y2="2722.8" stroke="#1272b8" stroke-width="3"/>
<line x1="1077" y1="2847.7" x2="2017" y2="2847.7" stroke="#1272b8" stroke-width="3"/>
<line x1="1385.2" y1="2469.7" x2="1385.2" y2="2973" stroke="#1272b8" stroke-width="2.8"/>
<line x1="1693" y1="2469.7" x2="1693" y2="2973" stroke="#1272b8" stroke-width="2.8"/>
<line x1="1077" y1="2469.7" x2="2017" y2="2469.7" stroke="#1a76bc" stroke-width="2"/>
<rect x="1079.5" y="2234.5" width="935" height="736" fill="none" stroke="#2a7bbf" stroke-width="5"/>
<text x="1124.08" y="2374.2" font-size="60" font-weight="bold" fill="#fff">Element</text>
<text x="1445.48" y="2318" font-size="60" font-weight="bold" fill="#fff">Weight</text>
<text x="1762.16" y="2318" font-size="60" font-weight="bold" fill="#fff">Atomic</text>
<text x="1505.81" y="2434" font-size="66" font-weight="bold" fill="#fff">%</text>
<text x="1821.71" y="2434" font-size="66" font-weight="bold" fill="#fff">%</text>
<text x="1178.48" y="2554.1" font-size="61" font-weight="normal" fill="#141414">O K</text>
<text x="1485.4" y="2554.1" font-size="61" font-weight="normal" fill="#141414">7.52</text>
<text x="1785.82" y="2554.1" font-size="61" font-weight="normal" fill="#141414">36.26</text>
<text x="1174.11" y="2680.65" font-size="61" font-weight="normal" fill="#141414">Ti K</text>
<text x="1468.7" y="2680.65" font-size="61" font-weight="normal" fill="#141414">10.26</text>
<text x="1784.89" y="2680.65" font-size="61" font-weight="normal" fill="#141414">16.53</text>
<text x="1164.92" y="2806.25" font-size="61" font-weight="normal" fill="#141414">Cu K</text>
<text x="1468.99" y="2806.25" font-size="61" font-weight="normal" fill="#141414">15.45</text>
<text x="1784.6" y="2806.25" font-size="61" font-weight="normal" fill="#141414">18.76</text>
<text x="1173.96" y="2931.35" font-size="61" font-weight="normal" fill="#141414">Ta L</text>
<text x="1470.04" y="2931.35" font-size="61" font-weight="normal" fill="#141414">66.77</text>
<text x="1785.94" y="2931.35" font-size="61" font-weight="normal" fill="#141414">28.46</text>
</svg></div></body></html>
